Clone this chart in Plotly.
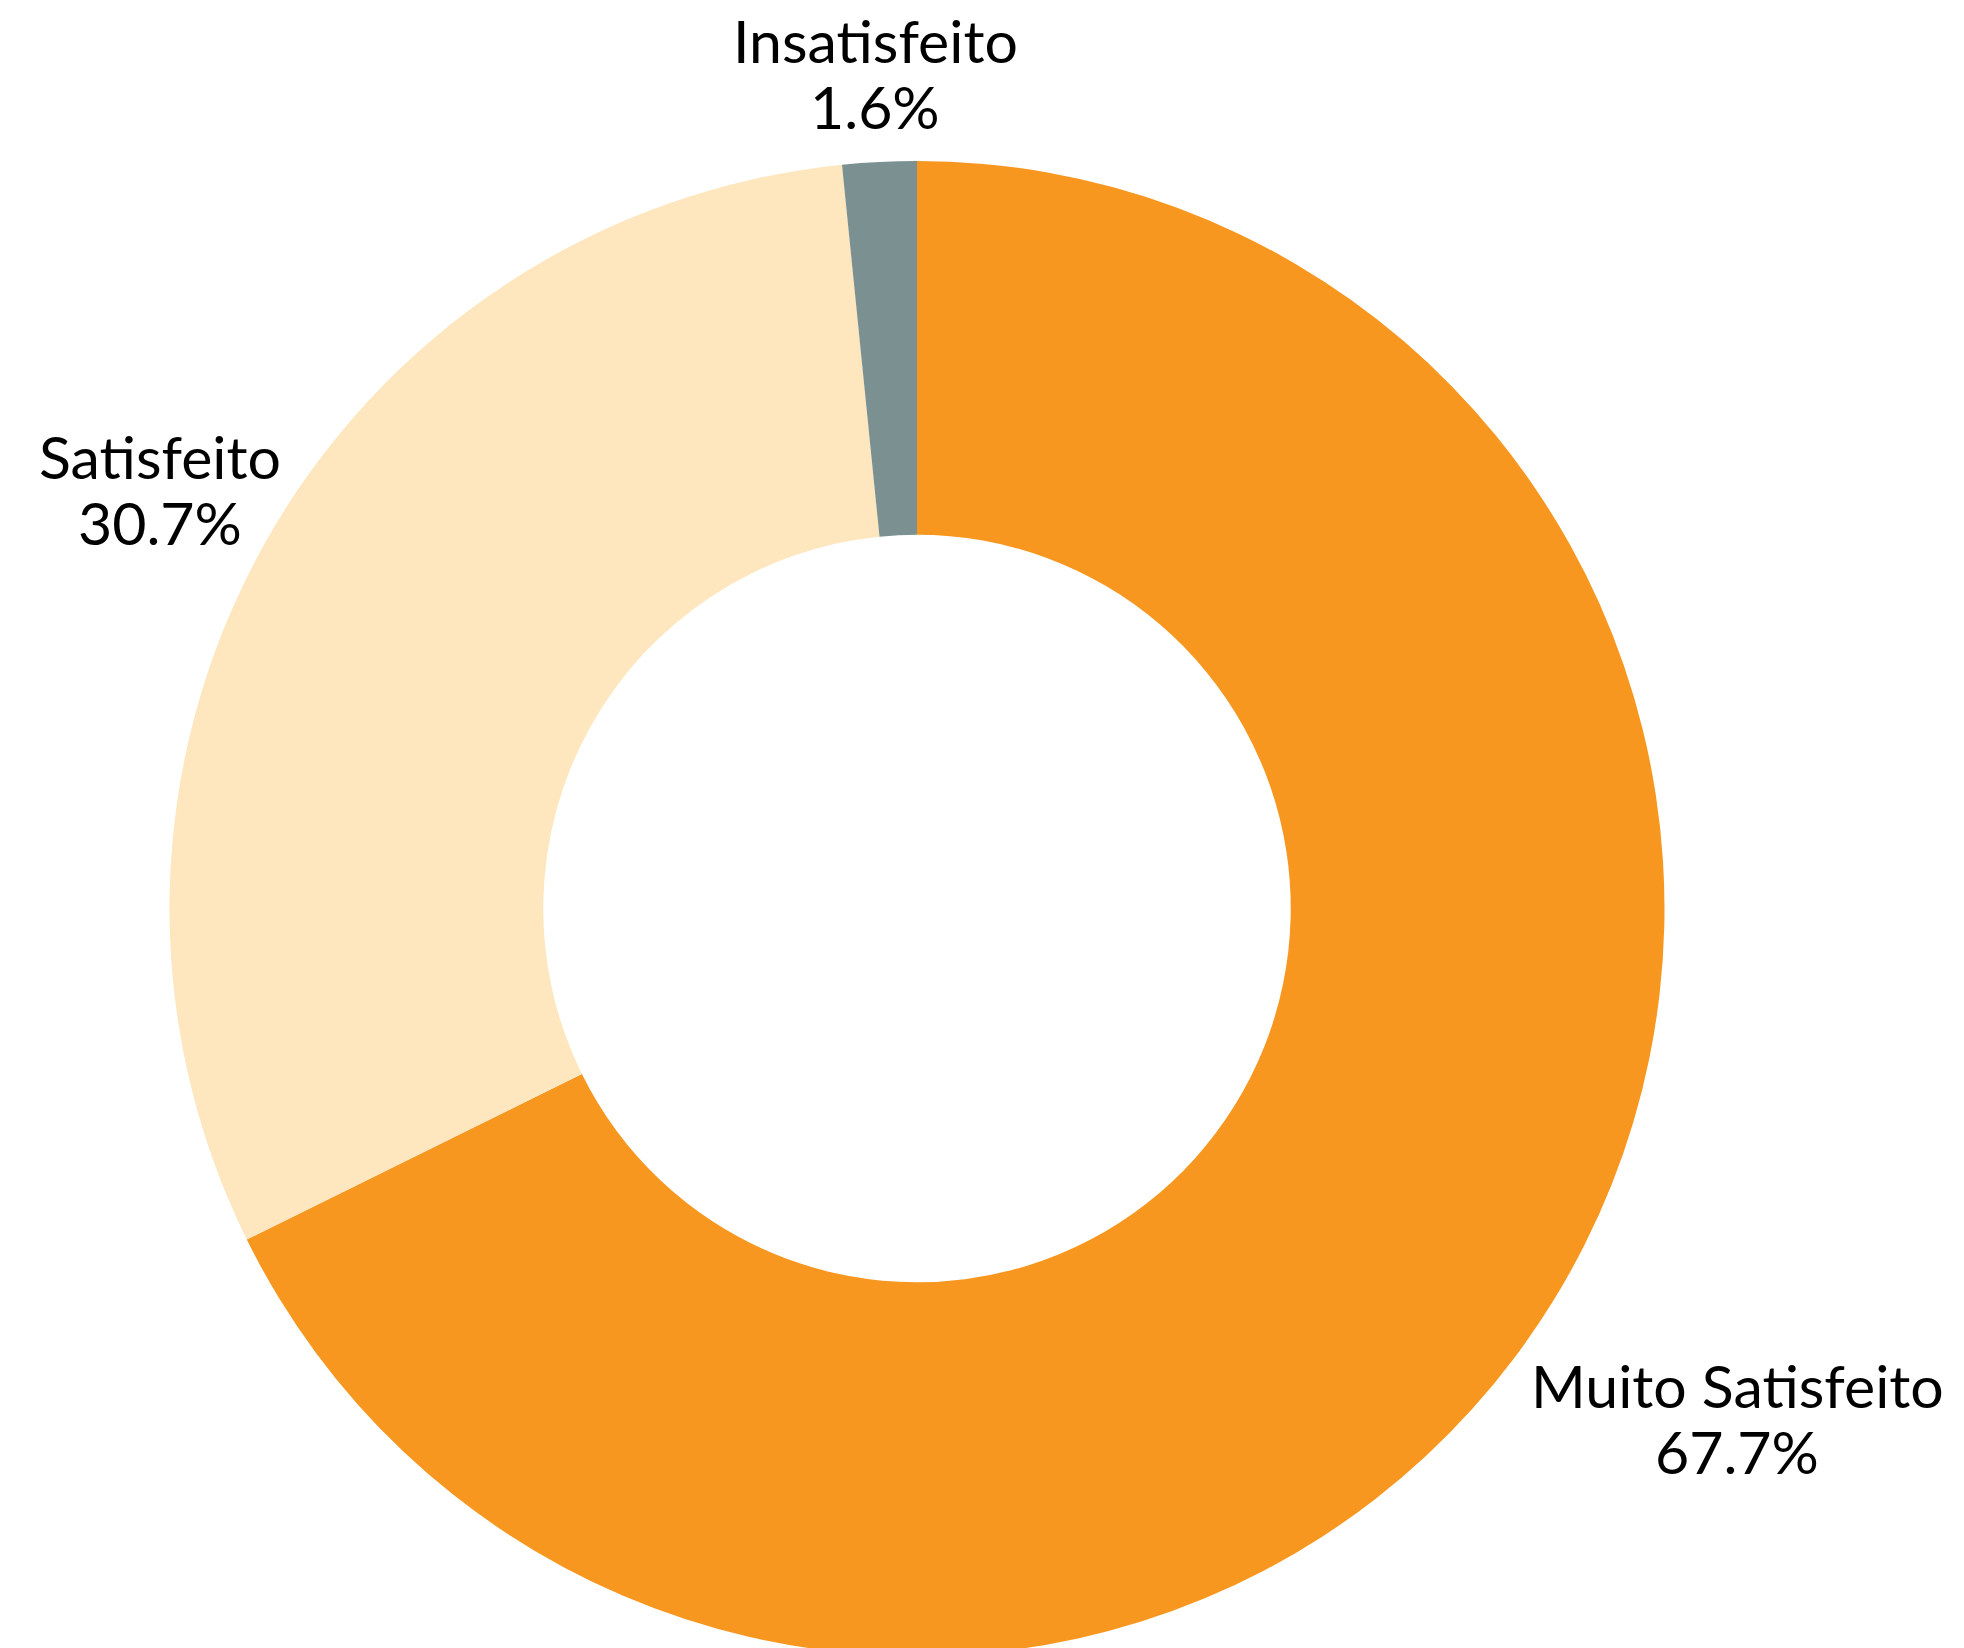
import numpy as np
import plotly.graph_objects as go

labels = ["Muito Satisfeito", "Satisfeito", "Insatisfeito"]
values = [67.7, 30.7, 1.6]
colors = ["#F7971F", "#FEE6BE", "#7B9191"]

WIDTH, HEIGHT = 1964, 1648
MARGIN = dict(l=0, r=146, t=153, b=0)
FONT = dict(family="Lato", size=59, color="black")
LINE_GAP = 66      # distance between label line and percent line
LABEL_GAP = 24     # distance between ring and label box
CHAR_W = 0.41      # rough char width of Lato, in em
BOX_H = 114
EDGE_PAD = 31      # keep labels this far from the figure edge

fig = go.Figure(
    go.Pie(
        labels=labels,
        values=values,
        hole=0.5,
        sort=False,
        direction="clockwise",
        rotation=0,
        marker=dict(colors=colors, line=dict(width=0)),
        textinfo="none",
        automargin=False,
        showlegend=False,
        hovertemplate="%{label}: %{percent:.1%}<extra></extra>",
    )
)

# outside labels, centred on each slice's mid angle
plot_w = WIDTH - MARGIN["l"] - MARGIN["r"]
plot_h = HEIGHT - MARGIN["t"] - MARGIN["b"]
cx = MARGIN["l"] + plot_w / 2
radius = min(plot_w, plot_h) / 2
vals = np.array(values)
frac = vals / vals.sum()
mid = (np.cumsum(frac) - frac / 2) * 2 * np.pi

annotations = []
for lab, f, th in zip(labels, frac, mid):
    w = len(lab) * CHAR_W * FONT["size"]
    support = (w / 2) * abs(np.sin(th)) + (BOX_H / 2) * abs(np.cos(th))
    dist = radius + LABEL_GAP + support
    # pull the label in along its ray if it would leave the figure
    room = (WIDTH - cx if np.sin(th) > 0 else cx) - EDGE_PAD - w / 2
    if abs(np.sin(th)) > 1e-6:
        dist = min(dist, room / abs(np.sin(th)))
    dx = dist * np.sin(th)
    dy = dist * np.cos(th)
    for txt, off in ((lab, LINE_GAP / 2), (f"{f * 100:.1f}%", -LINE_GAP / 2)):
        annotations.append(
            dict(
                text=txt,
                xref="paper",
                yref="paper",
                x=0.5,
                y=0.5,
                xshift=dx,
                yshift=dy + off,
                xanchor="center",
                yanchor="middle",
                showarrow=False,
                font=FONT,
            )
        )

fig.update_layout(
    width=WIDTH,
    height=HEIGHT,
    paper_bgcolor="white",
    plot_bgcolor="white",
    margin=MARGIN,
    annotations=annotations,
)

fig.write_html("out.html")
